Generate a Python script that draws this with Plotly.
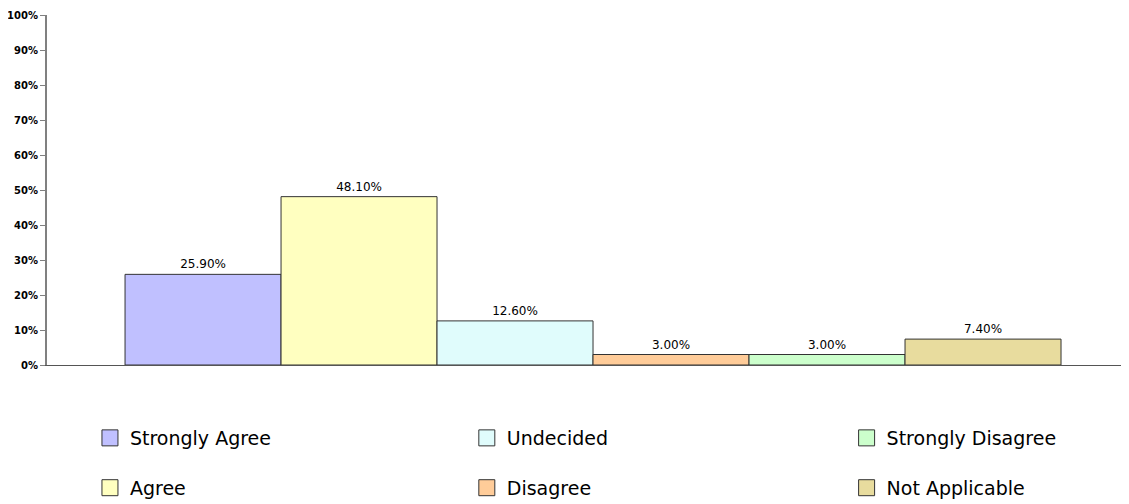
import plotly.graph_objects as go

categories = ["Strongly Agree", "Agree", "Undecided", "Disagree",
              "Strongly Disagree", "Not Applicable"]
values = [0.259, 0.481, 0.126, 0.030, 0.030, 0.074]
colors = ["#C0C0FF", "#FFFFC0", "#E0FCFC", "#FFCC99", "#CCFFCC", "#E8DC9E"]
ytick_vals = [i / 10 for i in range(11)]
ytick_text = [f"{i * 10}%" for i in range(11)]

fig = go.Figure()

# one bar per answer, all in a single grouped category
for name, val, col in zip(categories, values, colors):
    fig.add_trace(go.Bar(
        x=[""], y=[val], name=name,
        marker=dict(color=col, line=dict(color="#333333", width=1)),
        text=[f"{val * 100:.2f}%"], textposition="outside",
        textfont=dict(family="DejaVu Sans", size=12, color="black"),
        cliponaxis=False, showlegend=False,
    ))

# legend: 3 columns x 2 rows, filled column-wise -> one legend box per entry
legend_x = [0.0397, 0.388, 0.739]
legend_y = [-0.2086, -0.351]
legend_layout = {}
for i, (name, col) in enumerate(zip(categories, colors)):
    key = "legend" if i == 0 else f"legend{i + 1}"
    fig.add_trace(go.Scatter(
        x=[None], y=[None], mode="markers", name=name,
        marker=dict(symbol="square", size=16, color=col,
                    line=dict(color="#333333", width=1)),
        legend=key,
    ))
    legend_layout[key] = dict(
        orientation="h", xanchor="left", yanchor="middle",
        x=legend_x[i // 2], y=legend_y[i % 2], itemsizing="trace",
        font=dict(family="DejaVu Sans", size=19, color="black"),
        bgcolor="rgba(0,0,0,0)",
    )

# page body has an 8px margin, so the figure is 8px smaller than the window
fig.update_layout(
    width=1121, height=496,
    margin=dict(l=39, r=0, t=7, b=139, autoexpand=False),
    plot_bgcolor="white", paper_bgcolor="white",
    barmode="group", bargap=0.2, bargroupgap=0,
    xaxis=dict(
        range=[-0.4667, 0.4581], showticklabels=False, ticks="",
        showline=True, linecolor="#555555", linewidth=1, showgrid=False,
        zeroline=False,
    ),
    yaxis=dict(
        range=[0, 1], tickvals=ytick_vals, ticktext=ytick_text,
        ticks="outside", ticklen=5, tickcolor="#808080",
        showline=True, linecolor="#808080", linewidth=2, showgrid=False,
        zeroline=False,
        tickfont=dict(family="DejaVu Sans", size=10, color="black",
                      weight="bold"),
    ),
    **legend_layout,
)

fig.write_html("out.html")
